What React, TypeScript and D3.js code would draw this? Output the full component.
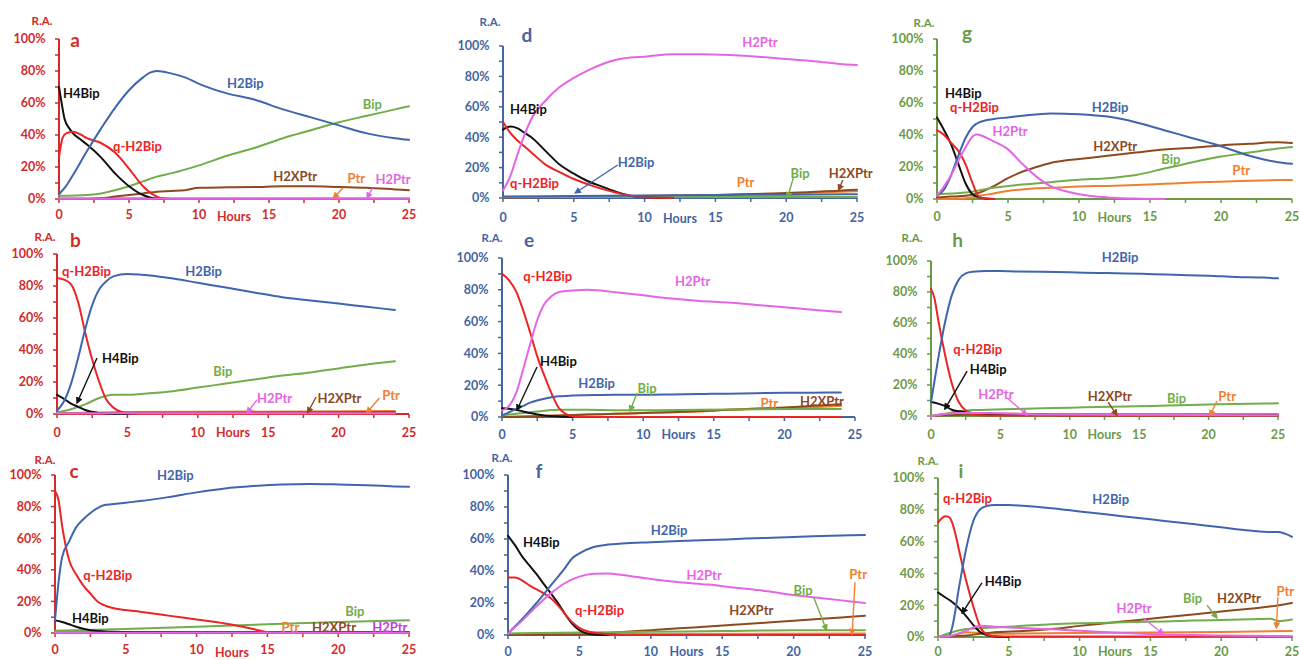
import React from 'react';
import * as d3 from 'd3';

type Pt = [number, number];

// ---------- axis ticks ----------
const X_TICKS = [0, 2.5, 5, 7.5, 10, 12.5, 15, 17.5, 20, 22.5, 25];
const X_LABELS = [0, 5, 10, 15, 20, 25];
const Y_TICKS = [0, 10, 20, 30, 40, 50, 60, 70, 80, 90, 100];
const Y_LABELS = [0, 20, 40, 60, 80, 100];
const SERIES_ORDER = ['Ptr', 'H2XPtr', 'Bip', 'H4Bip', 'qH2Bip', 'H2Bip', 'H2Ptr'];

// ---------- panel a ----------
const a_Ptr: Pt[] = [[0, 0.4], [25, 0.4]];
const a_H2Ptr: Pt[] = [[0, 0.2], [25, 0.2]];
const a_H2XPtr: Pt[] = [[0, 0], [2, 0], [3, 0.5], [4, 1.5], [5, 2.5], [6, 3.5], [7, 4.5], [8, 5], [9, 5.5], [10, 7], [12, 7.3], [14, 7.5], [16, 8], [18, 8], [20, 7.5], [22, 7], [24, 6], [25, 5.5]];
const a_Bip: Pt[] = [[0, 2], [2, 2.5], [3, 3.5], [4, 5.5], [5, 8], [6, 11], [7, 14], [8, 16], [10, 21], [12, 27], [14, 32], [16, 38], [18, 43], [20, 48], [22, 52], [24, 56], [25, 58]];
const a_H4Bip: Pt[] = [[0, 70], [0.15, 62], [0.4, 50], [0.75, 44], [1, 41], [1.5, 37.5], [2, 34], [3, 26], [4, 16], [5, 8], [6, 2.5], [6.5, 1], [7, 0.3], [8, 0]];
const a_qH2Bip: Pt[] = [[0, 26], [0.25, 38], [0.5, 41], [1, 42], [1.5, 40.5], [2, 38], [3, 35], [4, 29], [5, 19], [6, 8], [7, 1.5], [7.5, 0.3], [8, 0], [25, 0]];
const a_H2Bip: Pt[] = [[0, 3], [0.5, 8], [1, 15], [2, 30], [3, 44], [4, 57], [5, 68], [6, 76], [6.5, 79], [7, 80], [8, 78.5], [9, 76], [10, 72], [12, 66], [14, 62], [16, 56], [18, 51], [20, 46], [22, 41], [24, 38], [25, 37]];

// ---------- panel b ----------
const b_Ptr: Pt[] = [[0, 0.5], [5, 1.2], [24, 1.8]];
const b_H2Ptr: Pt[] = [[0, 0.5], [24, 0.5]];
const b_H2XPtr: Pt[] = [[0, 0.3], [5, 0.8], [24, 1.2]];
const b_Bip: Pt[] = [[0, 1], [1, 3], [2, 6], [3, 10], [4, 12], [5, 12], [6, 12.5], [8, 14], [10, 16.5], [12, 19], [14, 21.5], [16, 24], [18, 26], [20, 28.5], [22, 31], [24, 33]];
const b_H4Bip: Pt[] = [[0, 12], [0.5, 9.5], [1, 6.5], [1.5, 4.5], [2, 2.5], [3, 0.7], [4, 0], [24, 0]];
const b_qH2Bip: Pt[] = [[0, 85], [0.5, 84], [1, 81], [1.5, 70], [2, 51], [2.5, 34], [3, 20], [3.5, 9], [4, 4], [5, 0.5], [6, 0], [24, 0]];
const b_H2Bip: Pt[] = [[0, 2], [0.5, 8], [1, 19], [1.5, 35], [2, 53], [2.5, 68], [3, 78], [3.5, 83], [4, 86], [5, 87.5], [6, 87], [8, 85], [10, 82], [12, 79], [14, 76], [16, 73], [18, 71], [20, 69], [22, 67], [24, 65]];

// ---------- panel c ----------
const c_Ptr: Pt[] = [[0, 0.3], [25, 0.3]];
const c_H2Ptr: Pt[] = [[0, 0.2], [25, 0.2]];
const c_H2XPtr: Pt[] = [[0, 0.3], [25, 0.5]];
const c_Bip: Pt[] = [[0, 1.5], [5, 2.5], [10, 4], [15, 5.5], [20, 7], [25, 8]];
const c_H4Bip: Pt[] = [[0, 8], [0.5, 7], [1, 5.5], [1.5, 4], [2, 2.7], [3, 1.2], [4, 0.8], [6, 0.5], [10, 0.3], [25, 0.3]];
const c_qH2Bip: Pt[] = [[0, 90], [0.25, 84], [0.5, 68], [1, 46], [1.5, 37], [2, 30], [2.5, 25], [3, 20], [3.5, 17.5], [4, 16], [5, 14.5], [6, 13.5], [8, 11], [10, 8.5], [12, 6], [14, 2.5], [15, 0.5], [16, 0], [25, 0]];
const c_H2Bip: Pt[] = [[0, 8], [0.25, 32], [0.5, 48], [1, 58], [1.5, 67], [2, 72], [2.5, 76], [3, 79], [3.5, 81], [4, 81.5], [5, 82.5], [6, 83.5], [8, 86], [10, 89], [12, 91.5], [14, 93], [16, 94], [18, 94.3], [20, 94], [22, 93.5], [24, 92.8], [25, 92.5]];

// ---------- panel d ----------
const d_Ptr: Pt[] = [[0, 0.5], [5, 0.8], [10, 1.5], [15, 2], [20, 3], [25, 4.5]];
const d_H2XPtr: Pt[] = [[0, 0.3], [5, 0.5], [10, 1.2], [15, 2], [20, 3.3], [25, 5.5]];
const d_Bip: Pt[] = [[0, 0.7], [25, 0.7]];
const d_H4Bip: Pt[] = [[0, 45], [0.5, 47], [1, 46], [1.5, 43], [2, 40], [3, 31], [4, 22], [5, 16], [6, 11], [7, 7.5], [8, 4], [9, 1.5], [10, 0.5], [12, 0]];
const d_qH2Bip: Pt[] = [[0, 50], [0.5, 43], [1, 38], [1.5, 34], [2, 30], [3, 22], [4, 17], [5, 12.5], [6, 9], [7, 6], [8, 3.5], [9, 1.5], [10, 0.5], [12, 0]];
const d_H2Bip: Pt[] = [[0, 1], [5, 1.3], [10, 1.7], [15, 2], [20, 2.2], [25, 2.5]];
const d_H2Ptr: Pt[] = [[0, 5], [0.5, 14], [1, 28], [1.5, 41], [2, 52], [3, 64], [4, 73], [5, 79], [6, 84], [7, 88], [8, 91], [9, 92.5], [10, 93], [12, 94.5], [14, 94.5], [16, 94], [18, 93], [20, 91.5], [22, 90], [24, 88], [25, 87.5]];

// ---------- panel e ----------
const e_Ptr: Pt[] = [[0, 0], [2, 0.5], [4, 1], [6, 1.5], [8, 2], [10, 2.5], [12, 3], [14, 3.5], [16, 4.5], [18, 5], [20, 5.5], [22, 6.2], [24, 7]];
const e_H2XPtr: Pt[] = [[0, 0], [2, 0.3], [4, 1], [6, 1.5], [8, 2], [10, 2.5], [12, 3], [14, 3.8], [16, 4.5], [18, 5.3], [20, 6], [22, 7], [24, 8]];
const e_Bip: Pt[] = [[0, 1], [1, 2], [2, 3], [3, 4], [4, 4.5], [6, 4.5], [8, 4.3], [10, 4.3], [14, 4.5], [18, 4.8], [22, 5], [24, 5]];
const e_H4Bip: Pt[] = [[0, 5.5], [0.5, 5.2], [1, 4.5], [1.5, 3.5], [2, 2.5], [3, 1], [4, 0.3], [5, 0]];
const e_qH2Bip: Pt[] = [[0, 90], [0.5, 86], [1, 79], [1.5, 67], [2, 53], [2.5, 38], [3, 26], [3.5, 15], [4, 6], [4.5, 2], [5, 0.5], [6, 0], [24, 0]];
const e_H2Bip: Pt[] = [[0, 1], [0.5, 3], [1, 5], [1.5, 7], [2, 9], [3, 11.5], [4, 13], [5, 13.5], [6, 13.7], [8, 14], [10, 14], [12, 14.2], [14, 14.5], [16, 14.7], [18, 15], [20, 15.2], [22, 15.3], [24, 15.4]];
const e_H2Ptr: Pt[] = [[0, 4], [0.5, 7], [1, 15], [1.5, 30], [2, 46], [2.5, 61], [3, 71], [3.5, 76], [4, 78.5], [5, 79.5], [6, 80], [7, 79.5], [8, 78.5], [10, 76.5], [12, 74.5], [14, 73], [16, 72], [18, 70.5], [20, 69], [22, 67.5], [24, 66]];

// ---------- panel f ----------
const f_Ptr: Pt[] = [[0, 0.5], [25, 1]];
const f_H2XPtr: Pt[] = [[0, 0], [5, 0.3], [6, 0.8], [8, 1.8], [10, 3], [12, 4.2], [14, 5.3], [16, 6.5], [18, 7.7], [20, 8.9], [22, 10.2], [24, 11.4], [25, 12]];
const f_Bip: Pt[] = [[0, 1], [5, 1.5], [10, 2], [15, 2.5], [20, 3], [25, 3]];
const f_H4Bip: Pt[] = [[0, 62], [0.5, 56], [1, 49], [1.5, 43.5], [2, 38], [2.5, 32], [3, 26], [3.5, 20], [4, 13], [4.5, 7], [5, 3], [5.5, 1], [6, 0.3], [7, 0]];
const f_qH2Bip: Pt[] = [[0, 36], [0.5, 36], [1, 34], [1.5, 31], [2, 28.5], [2.5, 26], [3, 23], [3.5, 18.5], [4, 13], [4.5, 8], [5, 4.5], [5.5, 2.5], [6, 1.5], [7, 0.5], [8, 0], [25, 0]];
const f_H2Bip: Pt[] = [[0, 1], [1, 10], [2, 20], [3, 31], [4, 42], [4.5, 48], [5, 51], [6, 55], [7, 56.5], [8, 57.2], [10, 58], [12, 58.7], [14, 59.3], [16, 60], [18, 60.7], [20, 61.3], [22, 61.8], [24, 62.3], [25, 62.5]];
const f_H2Ptr: Pt[] = [[0, 1], [1, 9], [2, 18], [3, 26], [4, 32.5], [5, 36.5], [6, 38.3], [7, 38.5], [8, 37.5], [10, 35], [12, 33], [14, 31.5], [16, 29.5], [18, 27.5], [20, 25], [22, 23], [24, 21], [25, 20]];

// ---------- panel g ----------
const g_Ptr: Pt[] = [[0, 0], [2, 0.5], [3, 2], [4, 3.5], [5, 5], [6, 6], [7, 6.7], [8, 7], [10, 7.8], [12, 8.2], [14, 8.7], [16, 9.5], [18, 10.3], [20, 10.8], [22, 11.4], [24, 11.8], [25, 11.9]];
const g_H2XPtr: Pt[] = [[0, 1], [1, 1.5], [2, 2], [3, 4], [4, 8], [5, 13], [6, 17], [7, 20], [8, 22.5], [9, 24], [10, 25], [12, 27], [14, 29], [16, 31], [18, 32], [20, 33.5], [22, 34.5], [24, 35.5], [25, 35]];
const g_Bip: Pt[] = [[0, 3], [2, 4], [4, 7], [6, 9], [8, 10.5], [10, 12], [12, 13], [14, 15], [16, 19], [18, 23], [20, 26.5], [22, 29], [24, 31.5], [25, 32.5]];
const g_H4Bip: Pt[] = [[0, 51], [0.5, 43], [1, 34], [1.5, 22], [2, 10], [2.5, 3], [3, 1], [4, 0]];
const g_qH2Bip: Pt[] = [[0, 43], [0.5, 40], [1, 35], [1.5, 30], [2, 22], [2.5, 10], [3, 1], [4, 0]];
const g_H2Bip: Pt[] = [[0, 2], [0.5, 6], [1, 15], [1.5, 27], [2, 38], [2.5, 45], [3, 48], [4, 50], [5, 51], [6, 52], [8, 53.5], [10, 53], [12, 51.5], [14, 48], [16, 43], [18, 38], [20, 33], [22, 27], [24, 23], [25, 22]];
const g_H2Ptr: Pt[] = [[0, 2], [0.5, 8], [1, 15], [1.5, 24], [2, 32], [2.5, 39], [2.8, 40.5], [3, 40], [4, 36], [5, 31], [6, 22], [7, 14], [8, 8], [9, 5], [10, 3], [12, 1], [14, 0.3], [16, 0]];

// ---------- panel h ----------
const h_Ptr: Pt[] = [[0, 0], [3, 1.5], [10, 1.2], [25, 1]];
const h_H2XPtr: Pt[] = [[0, 0], [3, 1], [25, 1]];
const h_H2Ptr: Pt[] = [[0, 0], [2, 2], [4, 2], [8, 1], [25, 0.5]];
const h_Bip: Pt[] = [[0, 0], [1, 1.5], [2, 3], [3, 3.8], [4, 4], [6, 4.5], [8, 5], [10, 5.4], [12, 5.8], [14, 6.2], [16, 6.5], [18, 7], [20, 7.4], [22, 7.8], [24, 8], [25, 8.2]];
const h_H4Bip: Pt[] = [[0, 9], [0.5, 8], [1, 6.5], [1.5, 4], [2, 3], [3, 2], [4, 1.5], [6, 1], [8, 0.8], [10, 0.5], [25, 0.5]];
const h_qH2Bip: Pt[] = [[0, 82], [0.25, 76], [0.5, 63], [1, 40], [1.5, 21], [2, 9], [2.5, 3.5], [3, 1], [4, 0.3], [25, 0.3]];
const h_H2Bip: Pt[] = [[0, 9], [0.5, 36], [1, 60], [1.5, 78], [2, 88], [2.5, 92], [3, 93], [4, 93.5], [5, 93.5], [6, 93.3], [8, 93], [10, 92.7], [12, 92.3], [14, 92], [16, 91.5], [18, 91], [20, 90.5], [22, 89.7], [24, 89.3], [25, 88.8]];

// ---------- panel i ----------
const i_Ptr: Pt[] = [[0, 0], [1, 1], [2, 3], [3, 2.5], [4, 2], [6, 2.2], [10, 2.5], [15, 2.8], [20, 3.2], [25, 3.8]];
const i_H2XPtr: Pt[] = [[0, 0], [1, 0.5], [2, 1], [3, 2], [4, 3], [6, 3.8], [8, 5], [10, 7], [12, 8.8], [14, 10.6], [16, 12.4], [18, 14.2], [20, 16], [22, 17.8], [24, 19.8], [25, 21.4]];
const i_Bip: Pt[] = [[0, 0], [1, 3], [2, 5], [3, 5.5], [4, 6], [6, 7], [8, 8], [10, 8.6], [12, 9], [14, 9.4], [16, 9.8], [18, 10.3], [20, 10.7], [22, 11.1], [23.5, 11.5], [24, 10], [25, 11]];
const i_H4Bip: Pt[] = [[0, 28], [0.5, 25], [1, 22], [1.5, 18], [2, 13], [2.5, 7.5], [3, 3], [3.5, 1], [4, 0.3], [5, 0]];
const i_qH2Bip: Pt[] = [[0, 72], [0.25, 74.5], [0.5, 76], [0.75, 75.5], [1, 72], [1.25, 64], [1.5, 54], [2, 35], [2.5, 19], [3, 6], [3.5, 1.5], [4, 0.5], [5, 0.3], [25, 0.3]];
const i_H2Bip: Pt[] = [[0, 0], [0.5, 0], [0.8, 1], [1, 6], [1.5, 32], [2, 56], [2.5, 73], [3, 80.5], [3.5, 82.5], [4, 83], [5, 83], [6, 82.5], [8, 81], [10, 79], [12, 77], [14, 75], [16, 73], [18, 71], [20, 69], [22, 67], [23.5, 66], [24, 66], [25, 63]];
const i_H2Ptr: Pt[] = [[0, 0], [1, 1], [2, 4], [3, 7], [4, 6.5], [5, 6], [7, 5.2], [10, 4], [12, 3], [14, 2.2], [16, 1.5], [20, 1], [25, 0.5]];

// ---------- series styling ----------
const COLORS: Record<string, string> = {
  H2Bip: '#3f66ad',
  Bip: '#72ad4a',
  qH2Bip: '#ec2424',
  H4Bip: '#111111',
  H2XPtr: '#8c4a1e',
  Ptr: '#f08030',
  H2Ptr: '#e466e4',
};
const AXIS_COLORS = { red: '#d22b2b', blue: '#44659f', green: '#6b9a47' };

interface Label { key: string; text: string; at: Pt; color?: string }
interface Arrow { key: string; from: Pt; to: Pt }
interface PanelDef {
  id: string;
  series: Record<string, Pt[]>;
  labels: Label[];
  arrows: Arrow[];
}

const PANELS: PanelDef[] = [
  {
    id: 'a',
    series: { Ptr: a_Ptr, H2Ptr: a_H2Ptr, H2XPtr: a_H2XPtr, Bip: a_Bip, H4Bip: a_H4Bip, qH2Bip: a_qH2Bip, H2Bip: a_H2Bip },
    labels: [
      { key: 'H4Bip', text: 'H4Bip', at: [0.29, 66] },
      { key: 'qH2Bip', text: 'q-H2Bip', at: [3.86, 33] },
      { key: 'H2Bip', text: 'H2Bip', at: [12, 72] },
      { key: 'Bip', text: 'Bip', at: [21.7, 59] },
      { key: 'H2XPtr', text: 'H2XPtr', at: [15.3, 14.4] },
      { key: 'Ptr', text: 'Ptr', at: [20.6, 13] },
      { key: 'H2Ptr', text: 'H2Ptr', at: [22.6, 12] },
    ],
    arrows: [
      { key: 'Ptr', from: [20.3, 7], to: [19.6, 0.6] },
      { key: 'H2Ptr', from: [22.4, 7], to: [22, 0.6] },
    ],
  },
  {
    id: 'b',
    series: { Ptr: b_Ptr, H2Ptr: b_H2Ptr, H2XPtr: b_H2XPtr, Bip: b_Bip, H4Bip: b_H4Bip, qH2Bip: b_qH2Bip, H2Bip: b_H2Bip },
    labels: [
      { key: 'qH2Bip', text: 'q-H2Bip', at: [0.35, 88.8] },
      { key: 'H2Bip', text: 'H2Bip', at: [9.1, 88.8] },
      { key: 'H4Bip', text: 'H4Bip', at: [3.2, 35] },
      { key: 'Bip', text: 'Bip', at: [11.1, 26.9] },
      { key: 'H2Ptr', text: 'H2Ptr', at: [14.2, 10] },
      { key: 'H2XPtr', text: 'H2XPtr', at: [18.5, 10] },
      { key: 'Ptr', text: 'Ptr', at: [23.1, 11.9] },
    ],
    arrows: [
      { key: 'H4Bip', from: [2.84, 35], to: [1.42, 6.9] },
      { key: 'H2Ptr', from: [14.2, 8.8], to: [13.5, 0.8] },
      { key: 'H2XPtr', from: [18.4, 10.6], to: [17.8, 0.8] },
      { key: 'Ptr', from: [22.9, 10], to: [22, 0.8] },
    ],
  },
  {
    id: 'c',
    series: { Ptr: c_Ptr, H2Ptr: c_H2Ptr, H2XPtr: c_H2XPtr, Bip: c_Bip, H4Bip: c_H4Bip, qH2Bip: c_qH2Bip, H2Bip: c_H2Bip },
    labels: [
      { key: 'H2Bip', text: 'H2Bip', at: [7.2, 100] },
      { key: 'qH2Bip', text: 'q-H2Bip', at: [2, 36.7] },
      { key: 'H4Bip', text: 'H4Bip', at: [1.2, 9.5] },
      { key: 'Bip', text: 'Bip', at: [20.5, 13.9] },
      { key: 'Ptr', text: 'Ptr', at: [16, 3.2] },
      { key: 'H2XPtr', text: 'H2XPtr', at: [18.15, 3.2] },
      { key: 'H2Ptr', text: 'H2Ptr', at: [22.4, 3.2], color: '#c040e0' },
    ],
    arrows: [],
  },
  {
    id: 'd',
    series: { Ptr: d_Ptr, H2XPtr: d_H2XPtr, Bip: d_Bip, H4Bip: d_H4Bip, qH2Bip: d_qH2Bip, H2Bip: d_H2Bip, H2Ptr: d_H2Ptr },
    labels: [
      { key: 'H2Ptr', text: 'H2Ptr', at: [16.9, 102.6] },
      { key: 'H4Bip', text: 'H4Bip', at: [0.5, 58.5] },
      { key: 'qH2Bip', text: 'q-H2Bip', at: [0.5, 9.9] },
      { key: 'H2Bip', text: 'H2Bip', at: [8.1, 23.7] },
      { key: 'Ptr', text: 'Ptr', at: [16.5, 10.5] },
      { key: 'Bip', text: 'Bip', at: [20.3, 16.4] },
      { key: 'H2XPtr', text: 'H2XPtr', at: [23, 16.4] },
    ],
    arrows: [
      { key: 'H2Bip', from: [8.1, 21.7], to: [5.1, 3.3] },
      { key: 'Bip', from: [20.5, 13.2], to: [20.1, 0.3] },
      { key: 'H2XPtr', from: [24, 11.8], to: [23.7, 5.3] },
    ],
  },
  {
    id: 'e',
    series: { Ptr: e_Ptr, H2XPtr: e_H2XPtr, Bip: e_Bip, H4Bip: e_H4Bip, H2Bip: e_H2Bip, H2Ptr: e_H2Ptr, qH2Bip: e_qH2Bip },
    labels: [
      { key: 'qH2Bip', text: 'q-H2Bip', at: [1.5, 88.7] },
      { key: 'H2Ptr', text: 'H2Ptr', at: [12.25, 85.5] },
      { key: 'H4Bip', text: 'H4Bip', at: [2.7, 35.2] },
      { key: 'H2Bip', text: 'H2Bip', at: [5.4, 21.4] },
      { key: 'Bip', text: 'Bip', at: [9.6, 18.2] },
      { key: 'Ptr', text: 'Ptr', at: [18.3, 8.8] },
      { key: 'H2XPtr', text: 'H2XPtr', at: [21.1, 10] },
    ],
    arrows: [
      { key: 'H4Bip', from: [2.48, 31.4], to: [1.06, 4.4] },
      { key: 'Bip', from: [9.56, 15.1], to: [9.07, 3.8] },
    ],
  },
  {
    id: 'f',
    series: { Ptr: f_Ptr, H2XPtr: f_H2XPtr, Bip: f_Bip, H4Bip: f_H4Bip, qH2Bip: f_qH2Bip, H2Bip: f_H2Bip, H2Ptr: f_H2Ptr },
    labels: [
      { key: 'H4Bip', text: 'H4Bip', at: [1.05, 58] },
      { key: 'H2Bip', text: 'H2Bip', at: [10, 65.6] },
      { key: 'H2Ptr', text: 'H2Ptr', at: [12.5, 37.5] },
      { key: 'qH2Bip', text: 'q-H2Bip', at: [4.7, 15.6] },
      { key: 'H2XPtr', text: 'H2XPtr', at: [15.5, 15.6] },
      { key: 'Bip', text: 'Bip', at: [20, 28] },
      { key: 'Ptr', text: 'Ptr', at: [23.9, 38] },
    ],
    arrows: [
      { key: 'Bip', from: [21.4, 23.7], to: [22.3, 3.1] },
      { key: 'Ptr', from: [24.3, 33], to: [24.1, 0.5] },
    ],
  },
  {
    id: 'g',
    series: { Ptr: g_Ptr, H2XPtr: g_H2XPtr, Bip: g_Bip, H4Bip: g_H4Bip, qH2Bip: g_qH2Bip, H2Bip: g_H2Bip, H2Ptr: g_H2Ptr },
    labels: [
      { key: 'H4Bip', text: 'H4Bip', at: [0.56, 66] },
      { key: 'qH2Bip', text: 'q-H2Bip', at: [0.92, 57.5] },
      { key: 'H2Bip', text: 'H2Bip', at: [10.9, 57.5] },
      { key: 'H2Ptr', text: 'H2Ptr', at: [3.9, 42.5] },
      { key: 'H2XPtr', text: 'H2XPtr', at: [11, 33] },
      { key: 'Bip', text: 'Bip', at: [15.8, 25] },
      { key: 'Ptr', text: 'Ptr', at: [20.8, 18] },
    ],
    arrows: [],
  },
  {
    id: 'h',
    series: { Ptr: h_Ptr, H2Ptr: h_H2Ptr, H2XPtr: h_H2XPtr, Bip: h_Bip, H4Bip: h_H4Bip, qH2Bip: h_qH2Bip, H2Bip: h_H2Bip },
    labels: [
      { key: 'H2Bip', text: 'H2Bip', at: [12.3, 102.6] },
      { key: 'qH2Bip', text: 'q-H2Bip', at: [1.6, 43.2] },
      { key: 'H4Bip', text: 'H4Bip', at: [2.8, 30.3] },
      { key: 'H2Ptr', text: 'H2Ptr', at: [3.4, 14.2] },
      { key: 'H2XPtr', text: 'H2XPtr', at: [11.3, 12.9] },
      { key: 'Bip', text: 'Bip', at: [17, 11.6] },
      { key: 'Ptr', text: 'Ptr', at: [20.7, 12.9] },
    ],
    arrows: [
      { key: 'H4Bip', from: [2.6, 29], to: [1, 4.5] },
      { key: 'H2Ptr', from: [5.5, 11.6], to: [6.9, 0.6] },
      { key: 'H2XPtr', from: [12.75, 9], to: [13.4, 0.6] },
      { key: 'Ptr', from: [20.6, 9.7], to: [20.1, 0.3] },
    ],
  },
  {
    id: 'i',
    series: { Ptr: i_Ptr, H2Ptr: i_H2Ptr, H2XPtr: i_H2XPtr, Bip: i_Bip, H4Bip: i_H4Bip, qH2Bip: i_qH2Bip, H2Bip: i_H2Bip },
    labels: [
      { key: 'qH2Bip', text: 'q-H2Bip', at: [0.35, 87.4] },
      { key: 'H2Bip', text: 'H2Bip', at: [10.9, 86.2] },
      { key: 'H4Bip', text: 'H4Bip', at: [3.3, 35.2] },
      { key: 'Bip', text: 'Bip', at: [17.3, 24.5] },
      { key: 'H2XPtr', text: 'H2XPtr', at: [19.7, 24.5] },
      { key: 'Ptr', text: 'Ptr', at: [23.9, 28.9] },
      { key: 'H2Ptr', text: 'H2Ptr', at: [12.6, 18.2] },
    ],
    arrows: [
      { key: 'H4Bip', from: [3.1, 34], to: [1.7, 15] },
      { key: 'Bip', from: [19, 20], to: [19.7, 12] },
      { key: 'Ptr', from: [24, 25], to: [23.9, 5.7] },
      { key: 'H2Ptr', from: [14.5, 12], to: [15.9, 1.9] },
    ],
  },
];

// ---------- layout (pixels) ----------
interface Layout {
  x0: number; x1: number; y0: number; y1: number;
  axis: 'red' | 'blue' | 'green';
  ra: [number, number]; letter: [number, number];
  tickDy: number; hoursDy: number;
}
const LAYOUT: Record<string, Layout> = {
  a: { x0: 59, x1: 409, y0: 199, y1: 39, axis: 'red', ra: [42, 21], letter: [75, 46.5], tickDy: 16, hoursDy: 18 },
  b: { x0: 57, x1: 409, y0: 414, y1: 254, axis: 'red', ra: [45, 237], letter: [75.5, 246.5], tickDy: 19, hoursDy: 19 },
  c: { x0: 55, x1: 409, y0: 633, y1: 475, axis: 'red', ra: [45, 460], letter: [74, 478], tickDy: 17, hoursDy: 19.5 },
  d: { x0: 503, x1: 857, y0: 198, y1: 46, axis: 'blue', ra: [490, 22], letter: [527, 41.5], tickDy: 19.5, hoursDy: 20.5 },
  e: { x0: 502, x1: 855, y0: 417, y1: 258, axis: 'blue', ra: [492, 238], letter: [529, 246.5], tickDy: 18, hoursDy: 18 },
  f: { x0: 508, x1: 865, y0: 635, y1: 475, axis: 'blue', ra: [502, 458], letter: [539, 478], tickDy: 16.5, hoursDy: 16.5 },
  g: { x0: 937, x1: 1292, y0: 199, y1: 39, axis: 'green', ra: [924, 23], letter: [967, 40], tickDy: 18, hoursDy: 19 },
  h: { x0: 931, x1: 1278, y0: 416, y1: 261, axis: 'green', ra: [912, 238], letter: [957.5, 246.5], tickDy: 19, hoursDy: 19 },
  i: { x0: 938, x1: 1292, y0: 637, y1: 478, axis: 'green', ra: [928, 461], letter: [961, 477.5], tickDy: 15, hoursDy: 15 },
};

const FONT = "Lato, 'Open Sans', 'Liberation Sans', sans-serif";

function Panel({ p }: { p: PanelDef }) {
  const L = LAYOUT[p.id];
  const ac = AXIS_COLORS[L.axis];
  const x = d3.scaleLinear().domain([0, 25]).range([L.x0, L.x1]);
  const y = d3.scaleLinear().domain([0, 100]).range([L.y0, L.y1]);
  const line = d3.line<Pt>().x(d => x(d[0])).y(d => y(d[1])).curve(d3.curveMonotoneX);
  const keys = SERIES_ORDER.filter(k => p.series[k]);
  return (
    <g>
      {/* axes */}
      <line x1={L.x0} x2={L.x0} y1={y(0)} y2={y(100)} stroke={ac} strokeWidth={2} />
      <line x1={L.x0} x2={L.x1} y1={y(0)} y2={y(0)} stroke={ac} strokeWidth={2} />
      {Y_TICKS.map(v => (
        <line key={'yt' + v} x1={L.x0 - 4} x2={L.x0} y1={y(v)} y2={y(v)} stroke={ac} strokeWidth={1.5} />
      ))}
      {X_TICKS.map(t => (
        <line key={'xt' + t} x1={x(t)} x2={x(t)} y1={y(0)} y2={y(0) + 4} stroke={ac} strokeWidth={1.5} />
      ))}
      {Y_LABELS.map(v => (
        <text key={'yl' + v} x={L.x0 - 13.5} y={y(v)} dy="0.35em" textAnchor="end" fill={ac}
          fontSize={12.5} fontWeight="bold" fontFamily={FONT}>{v + '%'}</text>
      ))}
      {X_LABELS.map(t => (
        <text key={'xl' + t} x={x(t)} y={y(0) + L.tickDy} dy="0.35em" textAnchor="middle" fill={ac}
          fontSize={12.5} fontWeight="bold" fontFamily={FONT}>{t}</text>
      ))}
      <text x={x(12.5)} y={y(0) + L.hoursDy} dy="0.35em" textAnchor="middle" fill={ac}
        fontSize={12.5} fontWeight="bold" fontFamily={FONT}>Hours</text>
      <text x={L.ra[0]} y={L.ra[1]} dy="0.35em" textAnchor="middle" fill={ac}
        fontSize={11.5} fontWeight="bold" fontFamily={FONT}>R.A.</text>
      <text x={L.letter[0]} y={L.letter[1]} textAnchor="middle" fill={ac}
        fontSize={19} fontWeight="bold" fontFamily={FONT}>{p.id}</text>
      {/* series */}
      {keys.map(k => (
        <path key={k} d={line(p.series[k]) || ''} fill="none" stroke={COLORS[k]} strokeWidth={2}
          strokeLinejoin="round" strokeLinecap="round" />
      ))}
      {/* arrows */}
      {p.arrows.map((a, idx) => (
        <line key={'ar' + idx} x1={x(a.from[0])} y1={y(a.from[1])} x2={x(a.to[0])} y2={y(a.to[1])}
          stroke={COLORS[a.key]} strokeWidth={1.4} markerEnd={`url(#arr-${a.key})`} />
      ))}
      {/* labels */}
      {p.labels.map((lb, idx) => (
        <text key={'lb' + idx} x={x(lb.at[0])} y={y(lb.at[1])} dy="0.35em" fill={lb.color || COLORS[lb.key]}
          fontSize={13} fontWeight="bold" fontFamily={FONT}>{lb.text}</text>
      ))}
    </g>
  );
}

export default function App() {
  return (
    <svg width={1299} height={660} viewBox="0 0 1299 660"
      style={{ position: 'absolute', left: 0, top: 0, background: '#ffffff', display: 'block' }}>
      <defs>
        {Object.keys(COLORS).map(k => (
          <marker key={k} id={`arr-${k}`} viewBox="0 0 10 10" refX={8} refY={5}
            markerWidth={5} markerHeight={5} orient="auto">
            <path d="M0,0 L10,5 L0,10 z" fill={COLORS[k]} />
          </marker>
        ))}
      </defs>
      <rect x={0} y={0} width={1299} height={660} fill="#ffffff" />
      {PANELS.map(p => <Panel key={p.id} p={p} />)}
    </svg>
  );
}
